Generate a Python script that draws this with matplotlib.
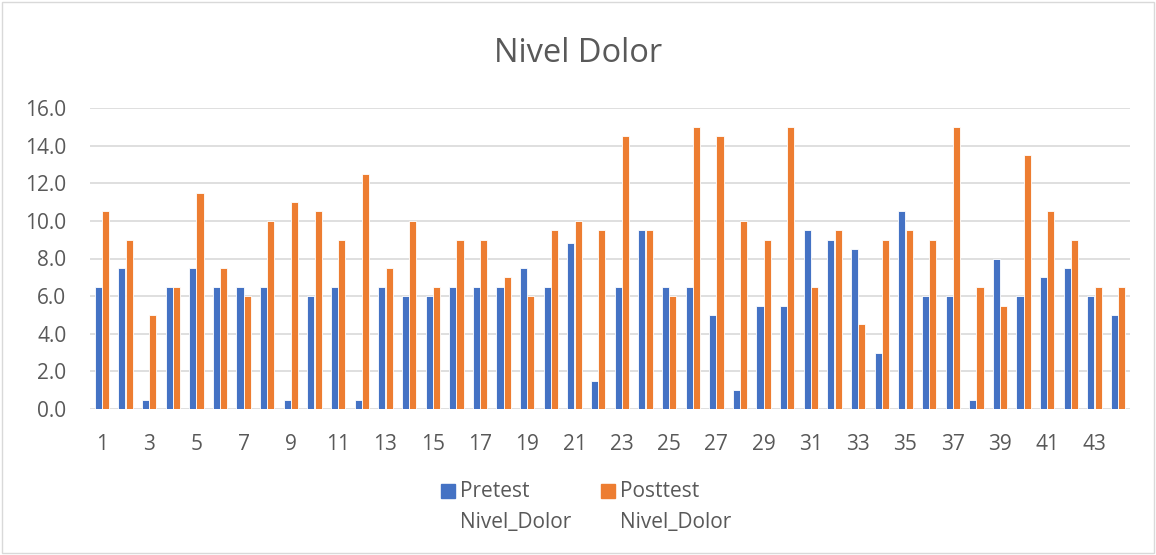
import numpy as np
import matplotlib
matplotlib.use("Agg")
import matplotlib.pyplot as plt
from matplotlib.patches import Rectangle

plt.rcParams['font.family'] = ['Open Sans', 'DejaVu Sans']

# data
pacientes = list(range(1, 45))
pretest = [6.5, 7.5, 0.5, 6.5, 7.5, 6.5, 6.5, 6.5, 0.5, 6.0,
           6.5, 0.5, 6.5, 6.0, 6.0, 6.5, 6.5, 6.5, 7.5, 6.5,
           8.8, 1.5, 6.5, 9.5, 6.5, 6.5, 5.0, 1.0, 5.5, 5.5,
           9.5, 9.0, 8.5, 3.0, 10.5, 6.0, 6.0, 0.5, 8.0, 6.0,
           7.0, 7.5, 6.0, 5.0]
posttest = [10.5, 9.0, 5.0, 6.5, 11.5, 7.5, 6.0, 10.0, 11.0, 10.5,
            9.0, 12.5, 7.5, 10.0, 6.5, 9.0, 9.0, 7.0, 6.0, 9.5,
            10.0, 9.5, 14.5, 9.5, 6.0, 15.0, 14.5, 10.0, 9.0, 15.0,
            6.5, 9.5, 4.5, 9.0, 9.5, 9.0, 15.0, 6.5, 5.5, 13.5,
            10.5, 9.0, 6.5, 6.5]
series_names = ['Pretest\nNivel_Dolor', 'Posttest\nNivel_Dolor']

azul = '#4472C4'
naranja = '#ED7D31'
gris = '#595959'

fig = plt.figure(figsize=(11.56, 5.55), dpi=100)
ax = fig.add_axes([90/1156, 1 - 409/555, 1040/1156, 301/555])

x = np.arange(len(pacientes))
w = 0.3
ax.bar(x - 0.155, pretest, w, color=azul, edgecolor='white', linewidth=0.6, zorder=3)
ax.bar(x + 0.155, posttest, w, color=naranja, edgecolor='white', linewidth=0.6, zorder=3)

ax.set_xlim(-0.5, len(pacientes) - 0.5)
ax.set_ylim(0, 16)
ax.set_yticks(np.arange(0, 17, 2))
ax.set_yticklabels(['%.1f' % v for v in np.arange(0, 17, 2)])
ax.set_xticks(x[::2])
ax.set_xticklabels([str(p) for p in pacientes[::2]])
ax.tick_params(axis='both', length=0, labelsize=15, labelcolor=gris)
ax.tick_params(axis='y', pad=17)
ax.tick_params(axis='x', pad=18)
ax.grid(axis='y', color='#D9D9D9', linewidth=1.2, zorder=0)
for s in ax.spines.values():
    s.set_visible(False)

fig.text(0.5, 1 - 53/555, 'Nivel Dolor', ha='center', va='center',
         fontsize=23.5, color=gris)

# legend (two-line labels, square aligned with first line)
for xs, color, name in [(441, azul, series_names[0]), (601, naranja, series_names[1])]:
    fig.add_artist(Rectangle((xs/1156, 1 - 498/555), 14/1156, 14/555,
                             transform=fig.transFigure, color=color))
    fig.text((xs + 19)/1156, 1 - 481/555, name, ha='left', va='top',
             fontsize=15, color=gris, linespacing=1.6)

# chart border
fig.add_artist(Rectangle((0.002, 0.003), 0.996, 0.994, transform=fig.transFigure,
                         fill=False, edgecolor='#D9D9D9', linewidth=1))

fig.savefig('out.png', dpi=100)
